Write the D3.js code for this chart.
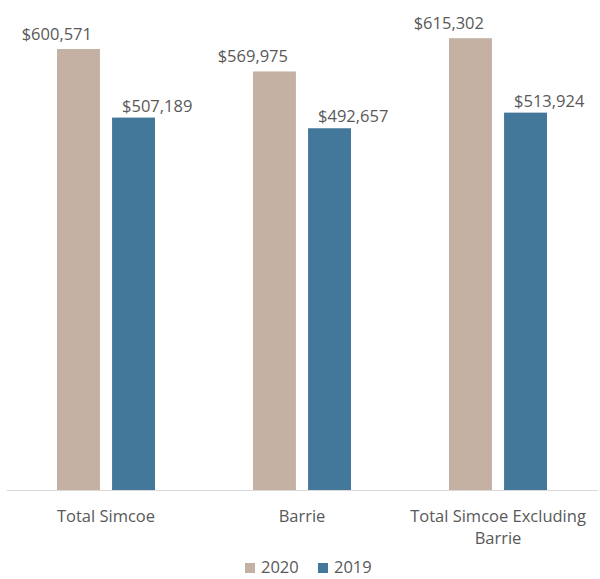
<!DOCTYPE html>
<html lang="en">
<head>
<meta charset="UTF-8">
<title>Simcoe average price</title>
<script src="https://d3js.org/d3.v7.min.js"></script>
<style>
    body { margin: 0; background: #fff; font-family: "Open Sans", sans-serif; }
    svg text { fill: #595959; }
</style>
</head>
<body>
<div id="chart"></div>
<script>
    // Data
    const categories = ["Total Simcoe", "Barrie", "Total Simcoe Excluding Barrie"];
    const categoryLines = [["Total Simcoe"], ["Barrie"], ["Total Simcoe Excluding", "Barrie"]];
    const seriesNames = ["2020", "2019"];
    const values2020 = [600571, 569975, 615302];
    const values2019 = [507189, 492657, 513924];
    const colors = ["#c4b1a4", "#44789a"];

    const width = 600, height = 579;
    const baseY = 490;

    const svg = d3.select("#chart").append("svg")
        .attr("width", width)
        .attr("height", height);

    const rows = categories.map((c, i) => ({ cat: c, vals: [values2020[i], values2019[i]] }));

    const x0 = d3.scaleBand()
        .domain(categories)
        .range([8, 596])
        .paddingInner(0.5)
        .paddingOuter(0.25);

    const x1 = d3.scaleBand()
        .domain(seriesNames)
        .range([0, x0.bandwidth()])
        .paddingInner(0.22);

    const y = d3.scaleLinear()
        .domain([0, 600571])
        .range([baseY, 49]);

    // axis line
    svg.append("line")
        .attr("x1", 7).attr("x2", 598)
        .attr("y1", baseY + 0.5).attr("y2", baseY + 0.5)
        .attr("stroke", "#d9d9d9")
        .attr("stroke-width", 1);

    const groups = svg.append("g")
        .selectAll("g")
        .data(rows)
        .join("g")
        .attr("transform", d => `translate(${x0(d.cat)},0)`);

    const cells = groups.selectAll("g")
        .data(d => d.vals.map((v, i) => ({ s: seriesNames[i], v: v, i: i })))
        .join("g");

    cells.append("rect")
        .attr("x", d => x1(d.s))
        .attr("width", x1.bandwidth())
        .attr("y", d => y(d.v))
        .attr("height", d => baseY - y(d.v))
        .attr("fill", d => colors[d.i]);

    // value labels: 2020 hang left of the bar, 2019 hang right
    const fmt = d3.format("$,");
    cells.append("text")
        .attr("x", d => d.i === 0 ? x1(d.s) + x1.bandwidth() - 8 : x1(d.s) + 10)
        .attr("y", d => y(d.v) - (d.i === 0 ? 9 : 6))
        .attr("text-anchor", d => d.i === 0 ? "end" : "start")
        .style("font-size", "16.5px")
        .text(d => fmt(d.v));

    // category labels
    const catText = svg.append("g")
        .selectAll("text")
        .data(categories)
        .join("text")
        .attr("x", d => x0(d) + x0.bandwidth() / 2)
        .attr("y", 522)
        .attr("text-anchor", "middle")
        .style("font-size", "16.5px");

    catText.selectAll("tspan")
        .data((d, i) => categoryLines[i])
        .join("tspan")
        .attr("x", function () { return d3.select(this.parentNode).attr("x"); })
        .attr("dy", (d, i) => i === 0 ? 0 : 21.5)
        .text(d => d);

    // legend
    const legend = svg.append("g")
        .selectAll("g")
        .data(seriesNames)
        .join("g")
        .attr("transform", (d, i) => `translate(${245 + i * 73},0)`);

    legend.append("rect")
        .attr("x", 0).attr("y", 563)
        .attr("width", 10).attr("height", 10)
        .attr("fill", (d, i) => colors[i]);

    legend.append("text")
        .attr("x", 16).attr("y", 573)
        .style("font-size", "16.5px")
        .text(d => d);
</script>
</body>
</html>
